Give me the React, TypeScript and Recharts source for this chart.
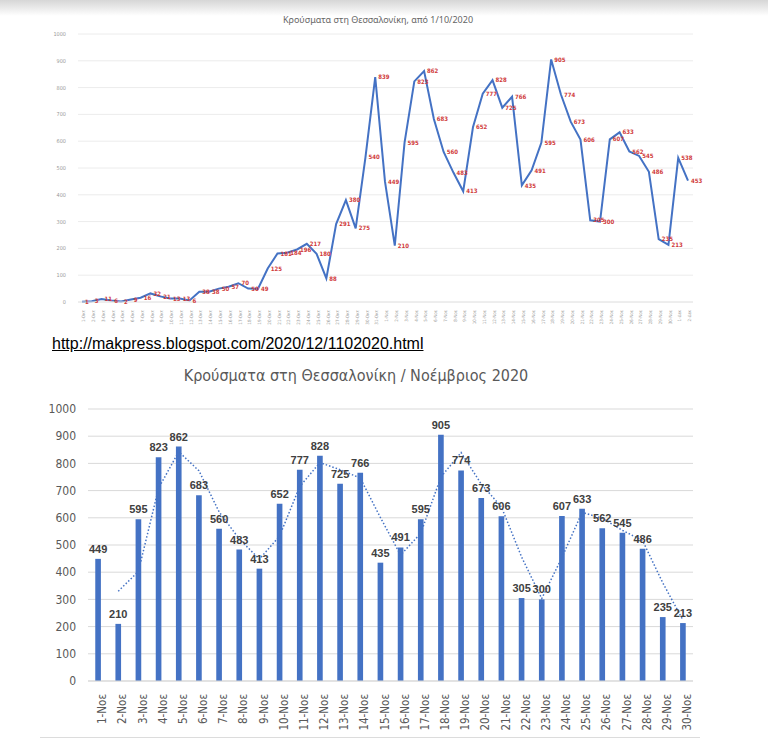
import React from 'react';
import { Bar, CartesianGrid, ComposedChart, LabelList, Line, LineChart, XAxis, YAxis } from 'recharts';

// top chart: daily cases 1 Oct - 2 Dec
const topDays = [
  '1-Οκτ', '2-Οκτ', '3-Οκτ', '4-Οκτ', '5-Οκτ', '6-Οκτ', '7-Οκτ', '8-Οκτ', '9-Οκτ', '10-Οκτ',
  '11-Οκτ', '12-Οκτ', '13-Οκτ', '14-Οκτ', '15-Οκτ', '16-Οκτ', '17-Οκτ', '18-Οκτ', '19-Οκτ', '20-Οκτ',
  '21-Οκτ', '22-Οκτ', '23-Οκτ', '24-Οκτ', '25-Οκτ', '26-Οκτ', '27-Οκτ', '28-Οκτ', '29-Οκτ', '30-Οκτ',
  '31-Οκτ',
  '1-Νοε', '2-Νοε', '3-Νοε', '4-Νοε', '5-Νοε', '6-Νοε', '7-Νοε', '8-Νοε', '9-Νοε', '10-Νοε',
  '11-Νοε', '12-Νοε', '13-Νοε', '14-Νοε', '15-Νοε', '16-Νοε', '17-Νοε', '18-Νοε', '19-Νοε', '20-Νοε',
  '21-Νοε', '22-Νοε', '23-Νοε', '24-Νοε', '25-Νοε', '26-Νοε', '27-Νοε', '28-Νοε', '29-Νοε', '30-Νοε',
  '1-Δεκ', '2-Δεκ',
];
const octCases = [1, 3, 11, 6, 2, 9, 16, 32, 21, 13, 13, 6, 38, 38, 50, 57, 70, 50, 49, 125, 181, 184, 196, 217, 180, 88, 291, 380, 275, 540, 839];
const novCases = [449, 210, 595, 823, 862, 683, 560, 483, 413, 652, 777, 828, 725, 766, 435, 491, 595, 905, 774, 673, 606, 305, 300, 607, 633, 562, 545, 486, 235, 213];
const decCases = [538, 453];

// bottom chart: November with 2-day moving average
const novDays = [
  '1-Νοε', '2-Νοε', '3-Νοε', '4-Νοε', '5-Νοε', '6-Νοε', '7-Νοε', '8-Νοε', '9-Νοε', '10-Νοε',
  '11-Νοε', '12-Νοε', '13-Νοε', '14-Νοε', '15-Νοε', '16-Νοε', '17-Νοε', '18-Νοε', '19-Νοε', '20-Νοε',
  '21-Νοε', '22-Νοε', '23-Νοε', '24-Νοε', '25-Νοε', '26-Νοε', '27-Νοε', '28-Νοε', '29-Νοε', '30-Νοε',
];
const novTrend = [null, 330, 403, 709, 843, 773, 622, 522, 448, 533, 715, 803, 777, 746, 601, 463, 543, 750, 840, 724, 640, 456, 303, 454, 620, 598, 554, 516, 361, 224];

const yTicks = [0, 100, 200, 300, 400, 500, 600, 700, 800, 900, 1000];

const allCases = [...octCases, ...novCases, ...decCases];
const topData = topDays.map((day, i) => ({ day, cases: allCases[i] }));
const bottomData = novDays.map((day, i) => ({ day, cases: novCases[i], trend: novTrend[i] }));

const font = "'Liberation Sans Narrow', 'DejaVu Sans Condensed', 'Noto Sans', sans-serif";
const blue = '#4472C4';

export default function App() {
  return (
    <div style={{ position: 'absolute', left: 0, top: 0, width: 768, height: 743, background: '#fff', overflow: 'hidden', fontFamily: font }}>
      <div style={{ position: 'absolute', left: 0, top: 0, width: 768, height: 16, background: 'linear-gradient(#d6d6d6, #ffffff)' }} />

      <div style={{ position: 'absolute', left: 0, top: 0 }}>
        <div style={{ position: 'absolute', left: 78, width: 600, top: 13, textAlign: 'center', fontSize: 9, color: '#666', fontFamily: "'Noto Sans', sans-serif" }}>
          Κρούσματα στη Θεσσαλονίκη, από 1/10/2020
        </div>
        <LineChart width={768} height={335} data={topData} margin={{ top: 34, right: 75, bottom: 13, left: 38 }}>
          <CartesianGrid vertical={false} stroke="#ececec" />
          <XAxis
            dataKey="day"
            interval={0}
            angle={-90}
            textAnchor="end"
            height={20}
            tick={{ fontSize: 4.5, fill: '#999' }}
            tickLine={false}
            tickMargin={2}
            axisLine={{ stroke: '#e6e6e6' }}
            padding={{ left: 4, right: 5 }}
          />
          <YAxis
            domain={[0, 1000]}
            ticks={yTicks}
            width={40}
            tick={{ fontSize: 5.5, fill: '#999' }}
            axisLine={false}
            tickLine={false}
            tickMargin={6}
          />
          <Line type="linear" dataKey="cases" stroke={blue} strokeWidth={2} dot={false} isAnimationActive={false}>
            <LabelList dataKey="cases" position="right" offset={3} fontSize={6} fontWeight="bold" fill="#d03a3a" />
          </Line>
        </LineChart>
      </div>

      <div style={{ position: 'absolute', left: 52, top: 335, fontSize: 16, fontFamily: "'Liberation Sans', Arial, sans-serif", color: '#000', textDecoration: 'underline' }}>
        http://makpress.blogspot.com/2020/12/1102020.html
      </div>

      <div style={{ position: 'absolute', left: 0, top: 360 }}>
        <div style={{ position: 'absolute', left: 56, width: 600, top: 6, textAlign: 'center', fontSize: 16, color: '#595959', fontFamily: font }}>
          Κρούσματα στη Θεσσαλονίκη / Νοέμβριος 2020
        </div>
        <ComposedChart width={768} height={374} data={bottomData} margin={{ top: 49, right: 75, bottom: 1, left: 48 }} barCategoryGap="64%">
          <CartesianGrid vertical={false} stroke="#d9d9d9" />
          <XAxis
            dataKey="day"
            interval={0}
            angle={-90}
            textAnchor="end"
            height={52}
            tick={{ fontSize: 11.5, fill: '#595959', fontFamily: font }}
            tickLine={false}
            tickMargin={7}
            axisLine={{ stroke: '#d9d9d9' }}
          />
          <YAxis
            domain={[0, 1000]}
            ticks={yTicks}
            width={40}
            tick={{ fontSize: 12, fill: '#595959', fontFamily: font }}
            axisLine={false}
            tickLine={false}
            tickMargin={6}
          />
          <Bar dataKey="cases" fill={blue} isAnimationActive={false}>
            <LabelList dataKey="cases" position="top" offset={6} fontSize={11} fontWeight="bold" fill="#404040" fontFamily="'Liberation Sans', sans-serif" />
          </Bar>
          <Line type="linear" dataKey="trend" stroke={blue} strokeWidth={1.5} strokeDasharray="1.5 2" dot={false} isAnimationActive={false} />
        </ComposedChart>
      </div>

      <div style={{ position: 'absolute', left: 40, top: 737, width: 660, height: 1, background: '#dcdcdc' }} />
    </div>
  );
}
